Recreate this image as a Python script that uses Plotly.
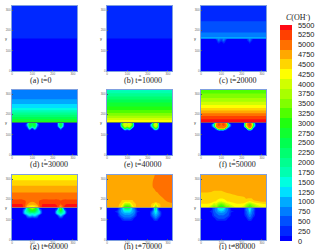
import plotly.graph_objects as go

W, H = 318, 250

# Grid of the simulated domain: the interface between the two layers sits at y = 160.
x_grid = [0, 30, 50, 65, 75, 87, 100, 112, 125, 135, 150, 180, 210, 222, 232, 240, 248, 258, 270, 320]
y_grid = [320, 290, 260, 230, 210, 190, 175, 160.5, 159.5, 150, 140, 130, 120, 105, 90, 0]
tick_values = [0, 100, 200, 300]
tick_labels = ["0", "100", "200", "300"]

captions = ["(a) t=0", "(b) t=10000", "(c) t=20000", "(d) t=30000", "(e) t=40000",
            "(f) t=50000", "(g) t=60000", "(h) t=70000", "(i) t=80000"]

# C(OH-) levels shown on the colour bar, one colour per level.
levels = [0, 250, 500, 750, 1000, 1250, 1500, 1750, 2000, 2250, 2500, 2750, 3000,
          3250, 3500, 3750, 4000, 4250, 4500, 4750, 5000, 5250, 5500]
level_colors = ["#0000ff", "#0028ff", "#0050ff", "#007dff", "#00aaff", "#00e0ff",
                "#00ffe0", "#00ffb0", "#00ff90", "#00ff70", "#00ff50", "#10ff30",
                "#20ff10", "#50ff00", "#80ff00", "#a8ff00", "#d0ff00", "#ffff00",
                "#ffd500", "#ffa800", "#ff7000", "#ff4000", "#ff0a14"]

# Upper layer, uniform along x: values from y = 320 down to the interface.
upper_a = [250, 250, 250, 250, 250, 250, 250, 250]
upper_b = [250, 250, 250, 250, 250, 250, 250, 250]
upper_c = [250, 250, 250, 500, 500, 625, 750, 1000]
upper_d = [750, 750, 1000, 1400, 1850, 2300, 2700, 3000]
upper_e = [1600, 2100, 2600, 3000, 3300, 3700, 4050, 4400]
upper_f = [3200, 3500, 3900, 4400, 4800, 5150, 5400, 5500]

zero = [0] * 20

# Lower layer rows from y = 159.5 down to y = 0.
lower_c = [
    [0, 0, 0, 0, 500, 750, 500, 750, 500, 0, 0, 0, 0, 0, 500, 750, 500, 0, 0, 0],
    [0, 0, 0, 0, 0, 750, 250, 750, 0, 0, 0, 0, 0, 0, 250, 750, 250, 0, 0, 0],
    [0, 0, 0, 0, 0, 250, 0, 250, 0, 0, 0, 0, 0, 0, 0, 250, 0, 0, 0, 0],
    zero, zero, zero, zero, zero]
lower_d = [
    [0, 0, 0, 0, 0, 2750, 2500, 2750, 0, 0, 0, 0, 0, 0, 2000, 2750, 2000, 0, 0, 0],
    [0, 0, 0, 0, 1000, 2900, 2500, 2900, 1000, 0, 0, 0, 0, 0, 2000, 2900, 2000, 0, 0, 0],
    [0, 0, 0, 0, 500, 2750, 2000, 2750, 500, 0, 0, 0, 0, 0, 1500, 2750, 1500, 0, 0, 0],
    [0, 0, 0, 0, 0, 1500, 0, 1500, 0, 0, 0, 0, 0, 0, 0, 1000, 0, 0, 0, 0],
    zero, zero, zero, zero]
lower_e = [
    [0, 0, 0, 0, 2500, 4000, 3800, 4000, 2500, 0, 0, 0, 0, 0, 3000, 4000, 3000, 0, 0, 0],
    [0, 0, 0, 0, 3500, 4100, 3900, 4100, 3500, 0, 0, 0, 0, 2000, 3900, 4100, 3900, 0, 0, 0],
    [0, 0, 0, 0, 2500, 4000, 3800, 4000, 2500, 0, 0, 0, 0, 1500, 3600, 4000, 3600, 0, 0, 0],
    [0, 0, 0, 0, 0, 2800, 1500, 2800, 0, 0, 0, 0, 0, 0, 1500, 3000, 1500, 0, 0, 0],
    zero, zero, zero, zero]
lower_f = [
    [0, 0, 0, 0, 4500, 5100, 5000, 5100, 4500, 0, 0, 0, 0, 4000, 5100, 5100, 5100, 1500, 0, 0],
    [0, 0, 0, 2000, 5000, 5200, 5100, 5200, 5000, 2000, 0, 0, 0, 4500, 5100, 5200, 5100, 3000, 0, 0],
    [0, 0, 0, 1500, 5000, 5100, 5000, 5100, 5000, 1500, 0, 0, 0, 4000, 5000, 5100, 5000, 2000, 0, 0],
    [0, 0, 0, 0, 1000, 4800, 4800, 4800, 1000, 0, 0, 0, 0, 0, 3500, 4800, 3500, 0, 0, 0],
    zero, zero, zero, zero]

# Panels g, h and i vary along x above the interface too, so they carry full rows.
grid_g = [
    [4200] * 20,
    [4400] * 20,
    [4700] * 20,
    [4900] * 20,
    [5050, 5050, 5050, 5050, 5030, 5000, 5000, 5000, 5030, 5050, 5050, 5050, 5050, 5050, 5050, 5030, 5050, 5050, 5050, 5050],
    [5200, 5200, 5200, 5150, 5050, 4950, 4900, 4950, 5050, 5150, 5200, 5200, 5200, 5200, 5180, 5150, 5180, 5200, 5200, 5200],
    [5400, 5400, 5400, 5150, 4900, 4750, 4700, 4750, 4900, 5150, 5400, 5400, 5400, 5350, 5200, 5100, 5200, 5350, 5400, 5400],
    [5500, 5500, 5500, 5000, 4400, 4200, 4000, 4200, 4400, 5000, 5500, 5500, 5500, 5400, 5000, 4600, 5000, 5400, 5500, 5500],
    [0, 0, 0, 0, 1800, 3500, 4000, 3500, 1800, 0, 0, 0, 0, 0, 1500, 3800, 1500, 0, 0, 0],
    [0, 0, 0, 1000, 2000, 3000, 3300, 3000, 2200, 800, 0, 0, 0, 500, 2200, 3500, 2200, 500, 0, 0],
    [0, 0, 0, 1500, 1800, 2500, 2700, 2500, 1800, 1500, 0, 0, 0, 1500, 2000, 2700, 2000, 1500, 0, 0],
    [0, 0, 0, 1300, 1500, 1700, 1600, 1700, 1500, 1300, 0, 0, 0, 1300, 1600, 1800, 1600, 1300, 0, 0],
    [0, 0, 0, 0, 800, 1300, 1000, 1300, 800, 0, 0, 0, 0, 0, 800, 1300, 800, 0, 0, 0],
    zero, zero, zero]

grid_h = [
    [4780, 4780, 4780, 4780, 4780, 4780, 4780, 4780, 4780, 4780, 4780, 4780, 4780, 4780, 4860, 4900, 4960, 4960, 4960, 4960],
    [4780, 4780, 4780, 4780, 4780, 4780, 4780, 4780, 4780, 4780, 4780, 4780, 4800, 4860, 4900, 4960, 4960, 4960, 4960, 4960],
    [4780, 4780, 4780, 4780, 4780, 4780, 4780, 4780, 4780, 4780, 4780, 4780, 4800, 4860, 4900, 4960, 4960, 4960, 4960, 4960],
    [4780, 4780, 4780, 4780, 4780, 4780, 4780, 4780, 4780, 4780, 4780, 4780, 4780, 4780, 4800, 4830, 4860, 4900, 4960, 4960],
    [4780, 4780, 4780, 4780, 4780, 4780, 4780, 4780, 4780, 4780, 4780, 4780, 4780, 4780, 4780, 4780, 4800, 4830, 4870, 4950],
    [4780, 4780, 4780, 4700, 4550, 4550, 4550, 4550, 4550, 4700, 4780, 4780, 4780, 4780, 4780, 4780, 4780, 4780, 4800, 4950],
    [4750, 4750, 4750, 4550, 4400, 3700, 3600, 3700, 4400, 4500, 4750, 4750, 4750, 4550, 4400, 4000, 4400, 4550, 4750, 4800],
    [4750, 4750, 4700, 4500, 3800, 3000, 2800, 3000, 3800, 4500, 4750, 4750, 4750, 4500, 4000, 3200, 4000, 4500, 4750, 4750],
    [0, 0, 0, 500, 1000, 2500, 2700, 2500, 1000, 500, 0, 0, 0, 0, 1000, 2800, 1000, 0, 0, 0],
    [0, 0, 0, 750, 1000, 1800, 2000, 1800, 1000, 750, 0, 0, 0, 0, 800, 2300, 800, 0, 0, 0],
    [0, 0, 300, 800, 1000, 1300, 1300, 1300, 1000, 800, 200, 0, 0, 500, 1100, 1500, 1100, 500, 0, 0],
    [0, 0, 0, 750, 850, 1000, 1000, 1000, 850, 700, 0, 0, 0, 700, 1000, 1250, 1000, 700, 0, 0],
    [0, 0, 0, 500, 700, 800, 800, 800, 700, 500, 0, 0, 0, 500, 800, 1000, 800, 500, 0, 0],
    [0, 0, 0, 0, 300, 500, 500, 500, 300, 0, 0, 0, 0, 0, 400, 600, 400, 0, 0, 0],
    zero, zero]

grid_i = [
    [4780] * 20,
    [4780] * 20,
    [4780, 4780, 4760, 4720, 4720, 4720, 4720, 4740, 4760, 4780, 4780, 4780, 4780, 4780, 4780, 4780, 4780, 4780, 4780, 4780],
    [4600, 4600, 4590, 4560, 4560, 4560, 4560, 4590, 4610, 4625, 4650, 4700, 4750, 4750, 4750, 4750, 4750, 4750, 4750, 4750],
    [4500, 4500, 4500, 4500, 4500, 4500, 4500, 4500, 4500, 4500, 4500, 4570, 4600, 4660, 4700, 4700, 4700, 4700, 4700, 4750],
    [4450, 4450, 4450, 4400, 4350, 4200, 4100, 4200, 4350, 4400, 4450, 4450, 4500, 4560, 4400, 4350, 4400, 4590, 4610, 4650],
    [4350, 4350, 4300, 3900, 4000, 3500, 3300, 3500, 3900, 4000, 4200, 4350, 4300, 3900, 3600, 3400, 3600, 3800, 4100, 4350],
    [4250, 4250, 3700, 3300, 3500, 3000, 2800, 3000, 3300, 3400, 3800, 4250, 3900, 3400, 3200, 3000, 3200, 3400, 3600, 4250],
    [0, 0, 0, 500, 750, 1700, 1800, 1700, 750, 500, 0, 0, 0, 500, 1000, 2200, 1000, 500, 0, 0],
    [0, 0, 0, 600, 750, 1250, 1500, 1250, 750, 600, 0, 0, 0, 700, 900, 1500, 900, 700, 0, 0],
    [0, 0, 200, 500, 750, 1000, 1100, 1000, 750, 500, 200, 0, 0, 500, 800, 1250, 800, 500, 0, 0],
    [0, 0, 0, 500, 600, 750, 800, 750, 600, 500, 0, 0, 0, 500, 700, 1000, 700, 500, 0, 0],
    [0, 0, 0, 400, 500, 600, 600, 600, 500, 400, 0, 0, 0, 300, 600, 750, 600, 300, 0, 0],
    [0, 0, 0, 0, 250, 400, 400, 400, 250, 0, 0, 0, 0, 0, 350, 500, 350, 0, 0, 0],
    zero, zero]


def layered(upper, lower):
    """Stack a uniform upper layer on top of the rows of the lower layer."""
    return [[v] * 20 for v in upper] + lower


panels = [
    layered(upper_a, [zero] * 8),
    layered(upper_b, [zero] * 8),
    layered(upper_c, lower_c),
    layered(upper_d, lower_d),
    layered(upper_e, lower_e),
    layered(upper_f, lower_f),
    grid_g,
    grid_h,
    grid_i,
]

# Pixel placement of the panels on the page.
col_left = [12, 107, 201]
row_top = [6, 90, 175]
panel_size = 65
caption_left = [[28, 122, 217], [28, 122, 217], [28, 122, 217]]
caption_y = [80, 164, 246.5]

# Thin line along the interface, tinted by what it separates.
interface_colors = [None, None, None, "#2f5a80", "#3f6070", "#6a4a80", "#8a7a90", "#8a8a90", "#8a8a90"]

scale = [[i / (len(level_colors) - 1), c] for i, c in enumerate(level_colors)]

fig = go.Figure()
annotations = []
shapes = []
layout_axes = {}

for n, z in enumerate(panels):
    r, c = divmod(n, 3)
    suffix = "" if n == 0 else str(n + 1)
    left, top = col_left[c], row_top[r]
    trace = dict(
        x=x_grid, y=y_grid, z=z,
        xaxis="x" + suffix, yaxis="y" + suffix,
        zmin=0, zmax=5500, zauto=False,
        colorscale=scale,
        contours=dict(start=-125, end=5625, size=250, coloring="fill", showlines=False),
        line=dict(width=0),
        hoverinfo="skip",
        showscale=n == 0,
    )
    if n == 0:
        trace["colorbar"] = dict(
            x=280 / W, xanchor="left", y=1 - 241 / H, yanchor="bottom",
            thicknessmode="pixels", thickness=11.5,
            lenmode="pixels", len=216,
            xpad=0, ypad=0, outlinewidth=0,
            tickmode="array", tickvals=levels, ticktext=[str(v) for v in levels],
            ticks="outside", ticklen=5, tickwidth=1, tickcolor="rgba(0,0,0,0)",
            tickfont=dict(family="Liberation Sans", size=7.4, color="#222222"),
        )
    fig.add_trace(go.Contour(**trace))

    axis_style = dict(
        tickmode="array", tickvals=tick_values, ticktext=tick_labels,
        ticks="inside", ticklen=1, tickwidth=0.5, tickcolor="#555555",
        tickfont=dict(family="Liberation Sans", size=3, color="#666666"),
        range=[0, 320], showgrid=False, zeroline=False,
        showline=True, linewidth=0.4, linecolor="#7f9fdf", mirror=True,
    )
    layout_axes["xaxis" + suffix] = dict(
        axis_style, anchor="y" + suffix,
        domain=[left / W, (left + panel_size) / W],
    )
    layout_axes["yaxis" + suffix] = dict(
        axis_style, anchor="x" + suffix,
        domain=[1 - (top + panel_size) / H, 1 - top / H],
    )
    if interface_colors[n]:
        shapes.append(dict(
            type="line", xref="x" + suffix, yref="y" + suffix,
            x0=0, x1=320, y0=160, y1=160,
            line=dict(color=interface_colors[n], width=0.8),
        ))
    annotations.append(dict(
        x=caption_left[r][c] / W, y=1 - caption_y[r] / H, xref="paper", yref="paper",
        text=captions[n], showarrow=False, xanchor="left", yanchor="middle",
        font=dict(family="Liberation Serif", size=8, color="#222222"),
    ))
    # Axis names, set very small beside each panel.
    annotations.append(dict(
        x=(left + panel_size / 2) / W, y=1 - (top + panel_size + 4) / H, xref="paper", yref="paper",
        text="x", showarrow=False, xanchor="center", yanchor="middle",
        font=dict(family="Liberation Sans", size=4, color="#444444"),
    ))
    annotations.append(dict(
        x=(left - 6) / W, y=1 - (top + panel_size / 2) / H, xref="paper", yref="paper",
        text="y", showarrow=False, xanchor="center", yanchor="middle",
        font=dict(family="Liberation Sans", size=4, color="#444444"),
    ))

annotations.append(dict(
    x=298 / W, y=1 - 17 / H, xref="paper", yref="paper",
    text="<i>C</i>(OH<sup>-</sup>)", showarrow=False, xanchor="center", yanchor="middle",
    font=dict(family="Liberation Serif", size=8, color="#222222"),
))

fig.update_layout(
    width=W, height=H,
    margin=dict(l=0, r=0, t=0, b=0, autoexpand=False),
    paper_bgcolor="white", plot_bgcolor="white",
    showlegend=False,
    annotations=annotations,
    shapes=shapes,
    **layout_axes,
)

fig.write_html("out.html", config=dict(displayModeBar=False))
